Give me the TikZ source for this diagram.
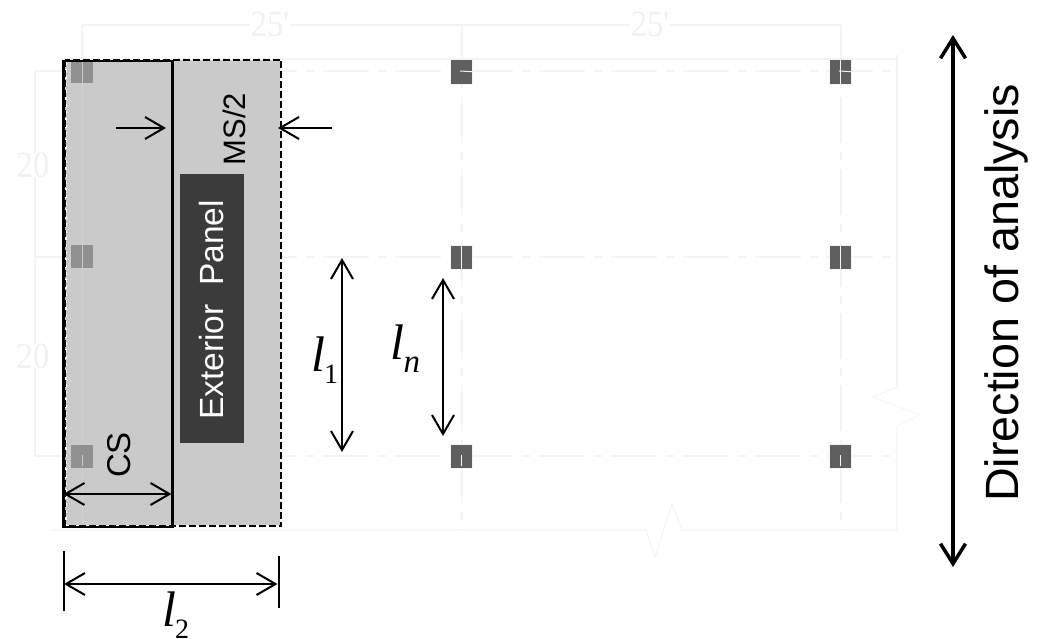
\documentclass[tikz,border=0pt]{standalone}
\usepackage{fontspec}
\setmainfont{Liberation Sans}
\newfontfamily\timesf{Liberation Serif}
\usetikzlibrary{arrows.meta}
\definecolor{faint}{HTML}{F4F4F4}
\definecolor{faintTxt}{HTML}{F1F1F1}
\definecolor{panelgray}{HTML}{CACACA}
\definecolor{darkcol}{HTML}{5F5F5F}
\definecolor{graycol}{HTML}{909090}
\definecolor{labelbox}{HTML}{3B3B3B}
\tikzset{
  x=1pt,y=-1pt,
  faintline/.style={draw=faint,line width=1.2pt},
  gridline/.style={faintline,dash pattern=on 46pt off 9pt on 8pt off 9pt},
  dimtext/.style={font=\timesf\fontsize{37}{37}\selectfont,text=faintTxt,inner sep=0pt,fill=white,inner xsep=1pt,xscale=.88},
  darkcolumn/.style={fill=darkcol,draw=faint,line width=0.5pt,minimum width=22pt,inner sep=0pt},
  graycolumn/.style={fill=graycol,draw=none,minimum width=22pt,inner sep=0pt},
  slit/.style={draw=faint,line width=1pt},
  barb/.style={line width=2pt,{Straight Barb[length=19pt,width=22pt,line width=2pt]}-{Straight Barb[length=19pt,width=22pt,line width=2pt]}},
  barbend/.style={line width=2pt,-{Straight Barb[length=19pt,width=22pt,line width=2pt]}},
  sans/.style={inner sep=0pt,rotate=90},
  ital/.style={inner sep=0pt,font=\timesf\fontsize{50}{50}\selectfont},
}
\newcommand{\lsub}[1]{{\itshape l}\kern-1pt\raisebox{-12pt}{\fontsize{28}{28}\selectfont #1}}
\begin{document}
\begin{tikzpicture}
\useasboundingbox (0,0) rectangle (1038,639);
% faint plan
\draw[faintline] (60,59) -- (897,59) -- (897,55);
\draw[faintline] (897,59) -- (897,387);
\draw[faintline,dash pattern=on 3pt off 1pt] (897,387) -- (873,397) -- (920,415) -- (897,426);
\draw[faintline] (897,426) -- (897,530)
  -- (682,530) -- (672,504) -- (655,557) -- (646,530) -- (50,530);
\draw[gridline] (35,71) -- (897,71);
\draw[gridline] (35,257) -- (897,257);
\draw[gridline] (35,456) -- (897,456);
\draw[gridline] (82,25) -- (82,530);
\draw[gridline] (462,25) -- (462,530);
\draw[gridline] (841,25) -- (841,530);
\draw[faintline] (82,25) -- (841,25);
\draw[faintline] (35,71) -- (35,456);
\node[dimtext] (d25a) at (270,24) {25'};
\node[dimtext] (d25b) at (650,24) {25'};
\node[dimtext] (d20a) at (33,165) {20};
\node[dimtext] (d20b) at (33,356) {20};
% panel
\path[fill=panelgray] (64,60) rectangle (281,526);
\draw[draw=white,line width=1.6pt] (281,60) -- (281,526);
\draw[draw=white,line width=1.6pt] (64,526) -- (281,526);
\draw[draw=white,line width=1.6pt,dash pattern=on 3pt off 4pt] (66,62) -- (66,525);
\draw[draw=panelgray!88!white,line width=1pt] (82,60) -- (82,526);
% columns
\node[graycolumn,minimum height=23pt] (c11) at (82,71.5) {};
\node[graycolumn,minimum height=23pt] (c21) at (82,256.5) {};
\node[graycolumn,minimum height=23pt] (c31) at (82,456.5) {};
\draw[draw=panelgray,line width=0.8pt] (c11.north) -- (c11.south);
\draw[draw=panelgray,line width=0.8pt] (c21.north) -- (c21.south);
\draw[draw=panelgray,line width=0.8pt] (82,455) -- (82,466);
\node[darkcolumn,minimum height=24.5pt] (c12) at (461.5,71.7) {};
\node[darkcolumn,minimum height=24pt] (c22) at (461.5,257) {};
\node[darkcolumn,minimum height=24pt] (c32) at (461.5,456.7) {};
\node[darkcolumn,minimum height=24.5pt] (c13) at (840.5,71.7) {};
\node[darkcolumn,minimum height=24pt] (c23) at (840.5,257) {};
\node[darkcolumn,minimum height=24pt] (c33) at (840.5,456.7) {};
\draw[slit] (460,71) -- (c12.east);
\draw[slit] (c13.north) -- (c13.south);
\draw[slit] (839,71) -- (c13.east);
\draw[slit] (c22.north) -- (c22.south);
\draw[slit] (c23.north) -- (c23.south);
\draw[slit] (461.7,455) -- (461.7,466);
\draw[slit] (840.7,455) -- (840.7,466);
% panel outlines
\draw[line width=2.8pt,dash pattern=on 7pt off 3pt] (64.5,60) rectangle (281,526);
\draw[line width=2.2pt] (63.5,61) rectangle (172.5,527);
% labels
\node[fill=labelbox,minimum width=64pt,minimum height=269pt,inner sep=0pt] (ext) at (212,308.5) {};
\node[sans,text=white,font=\fontsize{33.5}{36}\selectfont] (extt) at (212,310) {Exterior\ \ Panel};
\node[sans,font=\fontsize{31}{31}\selectfont] (ms) at (234,129) {MS/2};
\node[sans,font=\fontsize{33}{33}\selectfont] (cs) at (119,455) {CS};
\node[sans,font=\fontsize{46.7}{47}\selectfont] (dir) at (1006,293) {Direction of analysis};
\node[ital,anchor=west] (l1) at (311,360) {\lsub{1}};
\node[ital,anchor=west] (ln) at (390,349) {{\itshape l}\kern-0.5pt\raisebox{-13pt}{\itshape\fontsize{33}{33}\selectfont n}};
\node[ital,anchor=west] (l2) at (162,615.5) {\lsub{2}};
% arrows
\coordinate (ma) at (116,128);
\coordinate (mb) at (166,128);
\coordinate (mc) at (332,128);
\coordinate (md) at (278,128);
\draw[barbend] (ma) -- (mb);
\draw[barbend] (mc) -- (md);
\coordinate (csa) at (63.5,494);
\coordinate (csb) at (171.5,494);
\draw[barb] (csa) -- (csb);
\coordinate (ta) at (63.5,551);
\coordinate (tb) at (63.5,611);
\coordinate (tc) at (278.5,556);
\coordinate (td) at (278.5,608);
\draw[line width=2pt] (ta) -- (tb);
\draw[line width=2pt] (tc) -- (td);
\coordinate (la) at (64,584);
\coordinate (lb) at (277.5,584);
\draw[barb] (la) -- (lb);
\coordinate (aa) at (342,258);
\coordinate (ab) at (342,452);
\draw[barb] (aa) -- (ab);
\coordinate (ba) at (443,278);
\coordinate (bb) at (443,436);
\draw[barb] (ba) -- (bb);
\coordinate (da) at (953,35);
\coordinate (db) at (953,567);
\draw[line width=3.5pt,{Straight Barb[length=20pt,width=25pt,line width=3.5pt]}-{Straight Barb[length=20pt,width=25pt,line width=3.5pt]}] (da) -- (db);
\end{tikzpicture}
\end{document}
